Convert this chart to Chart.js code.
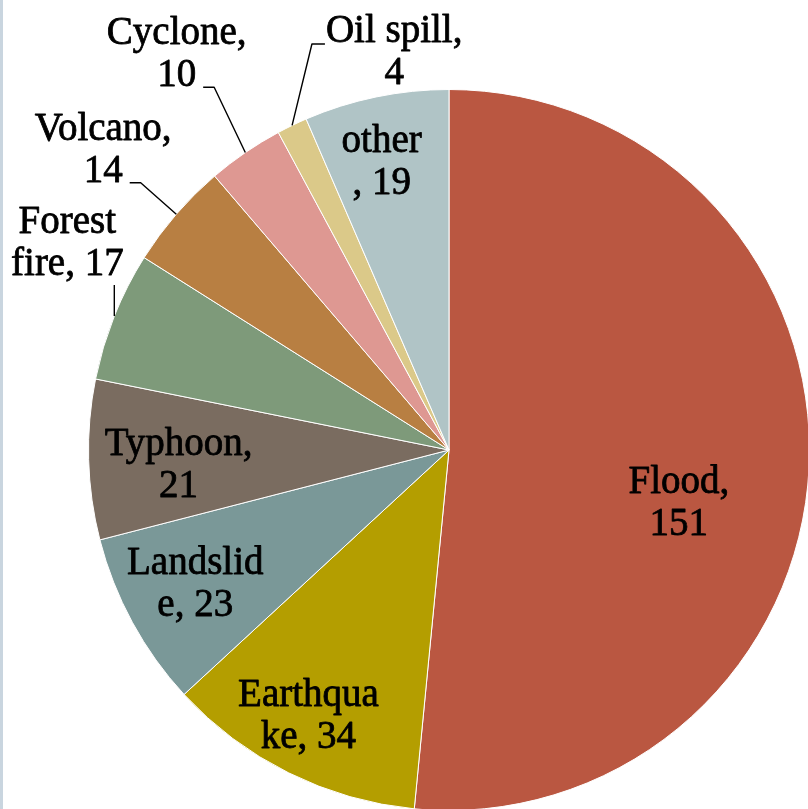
<!DOCTYPE html>
<html>
<head>
<meta charset="utf-8">
<script src="https://cdn.jsdelivr.net/npm/chart.js@4.4.1/dist/chart.umd.min.js"></script>
<style>
  html, body { margin: 0; padding: 0; background: #fff; overflow: hidden; }
  body { width: 808px; height: 809px; position: relative; }
  #strip { position: absolute; left: 0; top: 0; width: 3px; height: 809px; background: #C9D5DF; }
  #pie { position: absolute; left: 0; top: 0; }
</style>
</head>
<body>
<div id="strip"></div>
<canvas id="pie" width="898" height="900"></canvas>
<script>
// --- DATA ---
const categories = ['Flood', 'Earthquake', 'Landslide', 'Typhoon', 'Forest fire', 'Volcano', 'Cyclone', 'Oil spill', 'other'];
const counts = [151, 34, 23, 21, 17, 14, 10, 4, 19];
const labelLines = [
    ['Flood,', '151'],
    ['Earthqua', 'ke, 34'],
    ['Landslid', 'e, 23'],
    ['Typhoon,', '21'],
    ['Forest', 'fire, 17'],
    ['Volcano,', '14'],
    ['Cyclone,', '10'],
    ['Oil spill,', '4'],
    ['other', ', 19']
];
const sliceColors = ['#BA5741', '#B49E00', '#7A9898', '#7A6C60', '#7E9A7A', '#B87F42', '#DE9892', '#DBC989', '#B0C4C6'];

// label placement: shift from slice mid-angle (deg) and distance as a fraction of the radius
const labelShift = [9.7, 1.6, 1.0, -1.2, 6.9, 0.3, 0, 18, -1.4];
const labelDist = [0.653, 0.83, 0.794, 0.751, 1.207, 1.274, 1.337, 1.12, 0.826];
const leaderType = [null, null, null, null, 'down', 'right', 'right', 'left', null];

const FONT = '39px "Liberation Serif", "Times New Roman", serif';
const LINE_H = 42;

const sliceLabels = {
    id: 'sliceLabels',
    afterDatasetsDraw(chart) {
        const ctx = chart.ctx;
        const meta = chart.getDatasetMeta(0);
        ctx.save();
        ctx.font = FONT;
        ctx.fillStyle = '#000';
        ctx.strokeStyle = '#000';
        ctx.textAlign = 'center';
        ctx.textBaseline = 'alphabetic';
        ctx.lineJoin = 'round';
        meta.data.forEach((arc, i) => {
            const p = arc.getProps(['x', 'y', 'startAngle', 'endAngle', 'outerRadius'], true);
            const mid = (p.startAngle + p.endAngle) / 2;
            const a = mid + labelShift[i] * Math.PI / 180;
            const cx = p.x + Math.cos(a) * p.outerRadius * labelDist[i];
            const cy = p.y + Math.sin(a) * p.outerRadius * labelDist[i];
            const lines = labelLines[i];
            const base1 = cy - LINE_H / 2 + 13;
            const base2 = cy + LINE_H / 2 + 13;
            // thin outline makes the serif look closer to the heavier original face
            ctx.lineWidth = 0.8;
            ctx.fillText(lines[0], cx, base1);
            ctx.strokeText(lines[0], cx, base1);
            ctx.fillText(lines[1], cx, base2);
            ctx.strokeText(lines[1], cx, base2);

            const type = leaderType[i];
            if (!type) return;
            const ax = p.x + Math.cos(mid) * p.outerRadius;
            const ay = p.y + Math.sin(mid) * p.outerRadius;
            ctx.lineWidth = 1.4;
            ctx.beginPath();
            if (type === 'down') {
                ctx.moveTo(ax, base2 + 10);
                ctx.lineTo(ax, ay);
            } else if (type === 'right') {
                const w2 = ctx.measureText(lines[1]).width;
                const sx = cx + w2 / 2 + 7, sy = base2 + 1;
                ctx.moveTo(sx, sy);
                ctx.lineTo(sx + 11, sy);
                ctx.lineTo(ax, ay);
            } else if (type === 'left') {
                const w1 = ctx.measureText(lines[0]).width;
                const sx = cx - w1 / 2 - 1, sy = base1 + 2;
                ctx.moveTo(sx, sy);
                ctx.lineTo(sx - 13, sy);
                ctx.lineTo(ax, ay);
            }
            ctx.stroke();
        });
        ctx.restore();
    }
};

new Chart(document.getElementById('pie'), {
    type: 'pie',
    data: {
        labels: categories,
        datasets: [{
            data: counts,
            backgroundColor: sliceColors,
            borderColor: '#ffffff',
            borderWidth: 1
        }]
    },
    options: {
        responsive: false,
        animation: false,
        layout: { padding: { left: 88, right: 88, top: 89, bottom: 89 } },
        plugins: {
            legend: { display: false },
            tooltip: { enabled: false }
        }
    },
    plugins: [sliceLabels]
});
</script>
</body>
</html>
